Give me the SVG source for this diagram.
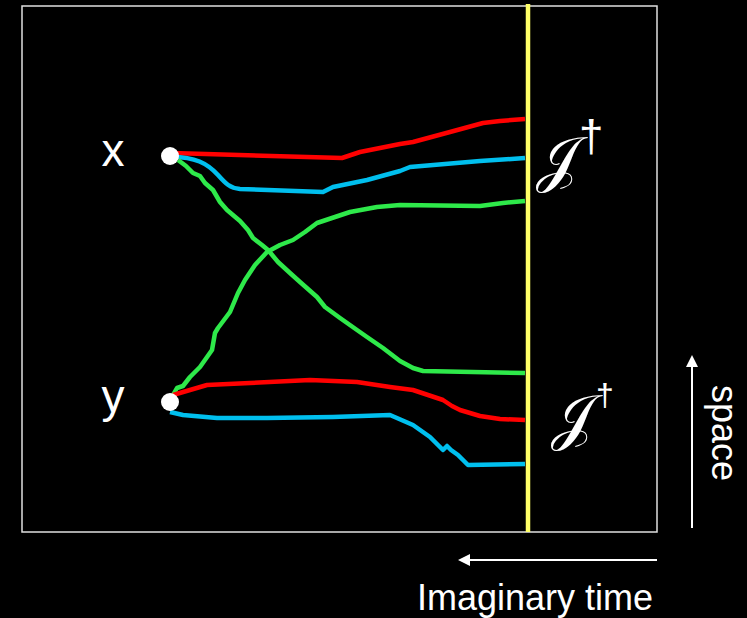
<svg xmlns="http://www.w3.org/2000/svg" width="747" height="618" viewBox="0 0 747 618">
  <style>
    .lbl { font-family: "Liberation Sans", Arial, sans-serif; fill: #ffffff; }
    .path { fill: none; stroke-width: 4.5; stroke-linejoin: round; stroke-linecap: butt; }
    .red { stroke: #ff0000; }
    .blue { stroke: #00bfee; }
    .green { stroke: #2ee94a; }
    .node { fill: #ffffff; }
    .scri { font-family: "DejaVu Serif", "Liberation Serif", serif; font-style: normal; fill: #ffffff; }
    .dag { font-family: "Liberation Sans", Arial, sans-serif; fill: #ffffff; }
  </style>
  <defs>
    <marker id="ah" viewBox="0 0 12 12" refX="2" refY="6" markerWidth="12" markerHeight="12" markerUnits="userSpaceOnUse" orient="auto">
      <path d="M0,0 L12,6 L0,12 Z" fill="#ffffff"/>
    </marker>
  </defs>
  <rect x="0" y="0" width="747" height="618" fill="#000000"/>
  <rect x="22" y="6" width="635" height="526" fill="none" stroke="#e0e0e0" stroke-width="1.5"/>

  <g id="connectors">
    <path class="path red" d="M172,153 L342,158 L360,152 L400,144 L413,142 L450,132 L483,123 L500,121 L525,119"/>
    <path class="path blue" d="M172,157 C195,157 207,163 218,175 C226,184 230,188 240,189 L323,192 L333,187 L367,180 L400,171 L410,167 L480,161 L525,158"/>
    <path class="path green" d="M178,160 L186,166 L193,173 L200,176 L205,183 L213,190 L220,202 L227,210 L240,221 L248,230 L253,238 L262,245 L268,250 L278,262 L290,273 L300,282 L317,297 L325,307 L340,318 L357,330 L367,337 L383,348 L400,361 L413,368 L423,371 L525,373"/>
    <path class="path green" d="M173,395 L177,388 L183,386 L190,377 L200,367 L212,350 L215,333 L218,328 L230,312 L238,293 L245,280 L255,265 L267,252 L280,245 L293,240 L305,232 L317,223 L335,217 L350,212 L377,207 L400,205 L480,206 L503,203 L525,201"/>
    <path class="path red" d="M173,395 L207,385 L250,383 L310,380 L357,382 L390,387 L413,390 L443,400 L452,406 L460,410 L480,416 L500,419 L525,420"/>
    <path class="path blue" d="M170,412 L183,415 L217,418 L267,418 L333,417 L390,415 L413,425 L430,437 L443,450 L447,446 L451,450 L458,455 L468,465 L525,464"/>
  </g>

  <g id="boundary">
    <line x1="528" y1="4" x2="528" y2="532" stroke="#ffff66" stroke-width="4.5"/>
    <text class="scri" x="536" y="180" font-size="62">𝒥</text>
    <text class="dag" x="579" y="151" font-size="44">†</text>
    <text class="scri" x="551" y="438" font-size="62">𝒥</text>
    <text class="dag" x="596" y="406" font-size="32">†</text>
  </g>

  <g id="node-x">
    <circle class="node" cx="170" cy="156" r="9"/>
    <text class="lbl" x="113" y="166" font-size="46" text-anchor="middle">x</text>
  </g>
  <g id="node-y">
    <circle class="node" cx="170" cy="402" r="9"/>
    <text class="lbl" x="113" y="412" font-size="46" text-anchor="middle">y</text>
  </g>

  <g id="axes">
    <line x1="692" y1="528" x2="692" y2="365" stroke="#ffffff" stroke-width="2" marker-end="url(#ah)"/>
    <text class="lbl" font-size="36" transform="translate(712,385) rotate(90)">space</text>
    <line x1="657" y1="560" x2="468" y2="560" stroke="#ffffff" stroke-width="2" marker-end="url(#ah)"/>
    <text class="lbl" x="417" y="610" font-size="36">Imaginary time</text>
  </g>
</svg>
